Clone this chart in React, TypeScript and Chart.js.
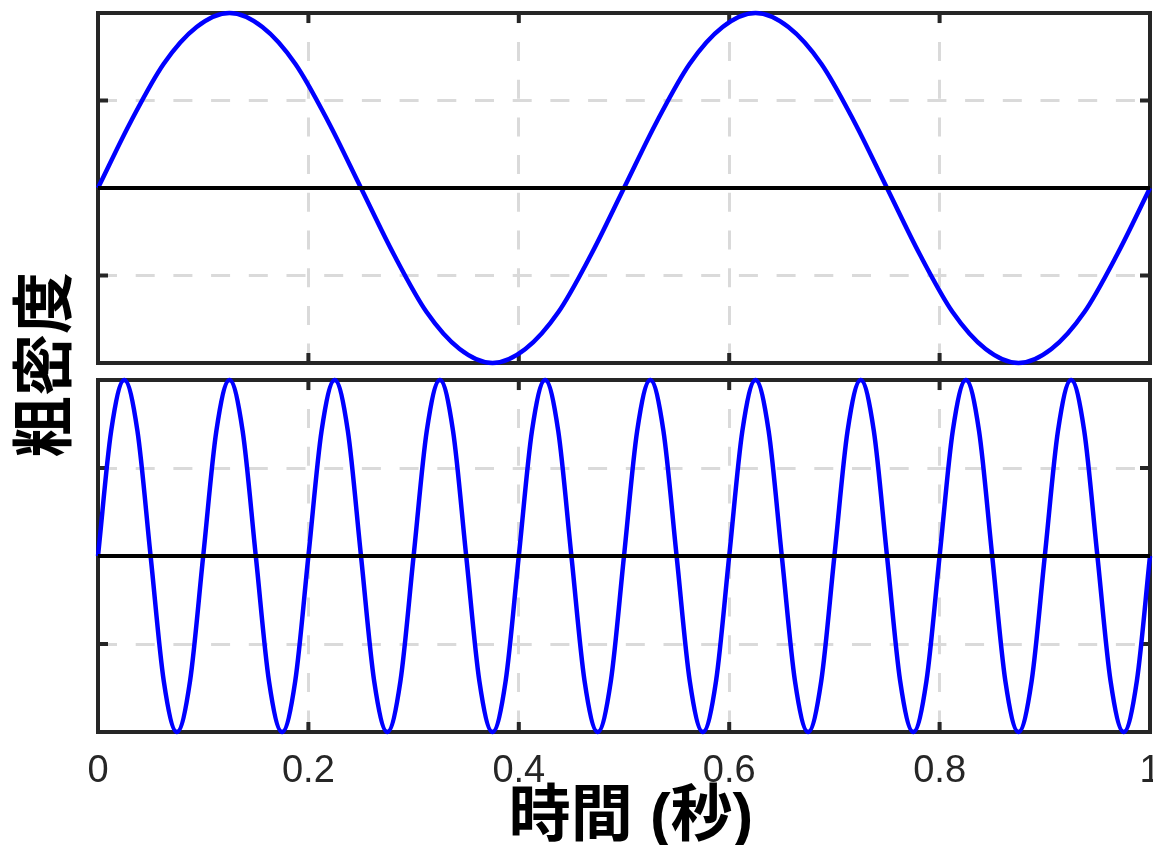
import { useEffect, useRef } from 'react';
import { Chart, registerables } from 'chart.js';

Chart.register(...registerables);

// ---- data ----
const timeTop = [
  0, 0.03125, 0.0625, 0.09375, 0.125, 0.15625, 0.1875, 0.21875, 0.25, 0.28125, 0.3125,
  0.34375, 0.375, 0.40625, 0.4375, 0.46875, 0.5, 0.53125, 0.5625, 0.59375, 0.625, 0.65625,
  0.6875, 0.71875, 0.75, 0.78125, 0.8125, 0.84375, 0.875, 0.90625, 0.9375, 0.96875, 1,
];
const densityTop = [
  0, 0.38, 0.71, 0.92, 1, 0.92, 0.71, 0.38, 0, -0.38, -0.71, -0.92, -1, -0.92, -0.71, -0.38,
  0, 0.38, 0.71, 0.92, 1, 0.92, 0.71, 0.38, 0, -0.38, -0.71, -0.92, -1, -0.92, -0.71, -0.38,
  0,
];
const timeBottom = [
  0, 0.0125, 0.025, 0.0375, 0.05, 0.0625, 0.075, 0.0875, 0.1, 0.1125, 0.125, 0.1375, 0.15,
  0.1625, 0.175, 0.1875, 0.2, 0.2125, 0.225, 0.2375, 0.25, 0.2625, 0.275, 0.2875, 0.3, 0.3125,
  0.325, 0.3375, 0.35, 0.3625, 0.375, 0.3875, 0.4, 0.4125, 0.425, 0.4375, 0.45, 0.4625, 0.475,
  0.4875, 0.5, 0.5125, 0.525, 0.5375, 0.55, 0.5625, 0.575, 0.5875, 0.6, 0.6125, 0.625, 0.6375,
  0.65, 0.6625, 0.675, 0.6875, 0.7, 0.7125, 0.725, 0.7375, 0.75, 0.7625, 0.775, 0.7875, 0.8,
  0.8125, 0.825, 0.8375, 0.85, 0.8625, 0.875, 0.8875, 0.9, 0.9125, 0.925, 0.9375, 0.95, 0.9625,
  0.975, 0.9875, 1,
];
const densityBottom = [
  0, 0.71, 1, 0.71, 0, -0.71, -1, -0.71,
  0, 0.71, 1, 0.71, 0, -0.71, -1, -0.71,
  0, 0.71, 1, 0.71, 0, -0.71, -1, -0.71,
  0, 0.71, 1, 0.71, 0, -0.71, -1, -0.71,
  0, 0.71, 1, 0.71, 0, -0.71, -1, -0.71,
  0, 0.71, 1, 0.71, 0, -0.71, -1, -0.71,
  0, 0.71, 1, 0.71, 0, -0.71, -1, -0.71,
  0, 0.71, 1, 0.71, 0, -0.71, -1, -0.71,
  0, 0.71, 1, 0.71, 0, -0.71, -1, -0.71,
  0, 0.71, 1, 0.71, 0, -0.71, -1, -0.71,
  0,
];
const zeroLineX = [0, 1];
const zeroLineY = [0, 0];
const xTicks = [0, 0.2, 0.4, 0.6, 0.8, 1];
const xTickLabels = ['0', '0.2', '0.4', '0.6', '0.8', '1'];
const yTicks = [-1, -0.5, 0, 0.5, 1];
const xAxisTitle = '時間 (秒)';
const yAxisTitle = '粗密度';

const FRAME = '#262626';

const framePlugin = {
  id: 'matlabFrame',
  beforeDatasetsDraw(chart: any) {
    const { ctx, chartArea: a, scales } = chart;
    ctx.save();
    ctx.strokeStyle = FRAME;
    ctx.lineWidth = 4;
    ctx.strokeRect(a.left, a.top, a.right - a.left, a.bottom - a.top);
    const L = 10;
    ctx.beginPath();
    scales.x.ticks.forEach((t: any) => {
      const px = scales.x.getPixelForValue(t.value);
      ctx.moveTo(px, a.bottom);
      ctx.lineTo(px, a.bottom - L);
      ctx.moveTo(px, a.top);
      ctx.lineTo(px, a.top + L);
    });
    scales.y.ticks.forEach((t: any) => {
      const py = scales.y.getPixelForValue(t.value);
      ctx.moveTo(a.left, py);
      ctx.lineTo(a.left + L, py);
      ctx.moveTo(a.right, py);
      ctx.lineTo(a.right - L, py);
    });
    ctx.stroke();
    ctx.restore();
  },
};

function makeConfig(times: number[], values: number[], showXLabels: boolean, padding: any) {
  return {
    type: 'line' as const,
    data: {
      datasets: [
        {
          data: zeroLineX.map((x, i) => ({ x, y: zeroLineY[i] })),
          borderColor: '#000000',
          borderWidth: 4,
          pointRadius: 0,
          clip: false as any,
        },
        {
          data: times.map((x, i) => ({ x, y: values[i] })),
          borderColor: '#0000ff',
          borderWidth: 4.5,
          pointRadius: 0,
          cubicInterpolationMode: 'monotone' as const,
          clip: false as any,
        },
      ],
    },
    options: {
      animation: false as const,
      responsive: false,
      devicePixelRatio: 1,
      layout: { padding },
      plugins: { legend: { display: false }, tooltip: { enabled: false } },
      events: [] as any[],
      scales: {
        x: {
          type: 'linear' as const,
          min: 0,
          max: 1,
          afterBuildTicks: (scale: any) => {
            scale.ticks = xTicks.map((v) => ({ value: v }));
          },
          grid: { color: '#dadada', lineWidth: 3, drawTicks: false },
          border: { display: false, dash: [19, 18.7], dashOffset: 8.7 },
          ticks: {
            display: showXLabels,
            maxRotation: 0,
            autoSkip: false,
            padding: 17,
            color: FRAME,
            font: { family: '"Liberation Sans", Arial, sans-serif', size: 38 },
            callback: (_v: any, i: number) => xTickLabels[i],
          },
        },
        y: {
          type: 'linear' as const,
          min: -1,
          max: 1,
          afterBuildTicks: (scale: any) => {
            scale.ticks = yTicks.map((v) => ({ value: v }));
          },
          grid: { color: '#dadada', lineWidth: 3, drawTicks: false },
          border: { display: false, dash: [19, 18.7], dashOffset: 0 },
          ticks: { display: false },
        },
      },
    },
    plugins: [framePlugin],
  };
}

export default function App() {
  const topRef = useRef<HTMLCanvasElement>(null);
  const bottomRef = useRef<HTMLCanvasElement>(null);

  useEffect(() => {
    const top = new Chart(
      topRef.current as HTMLCanvasElement,
      makeConfig(timeTop, densityTop, false, { left: 98, right: 50, top: 13, bottom: 482 }) as any
    );
    const bottom = new Chart(
      bottomRef.current as HTMLCanvasElement,
      makeConfig(timeBottom, densityBottom, true, { left: 98, right: 50, top: 380, bottom: 33.4 }) as any
    );
    return () => {
      top.destroy();
      bottom.destroy();
    };
  }, []);

  const labelFont = '"Liberation Sans", "Noto Sans CJK JP", sans-serif';

  return (
    <div
      style={{
        position: 'fixed',
        left: 0,
        top: 0,
        width: 1153,
        height: 845,
        overflow: 'hidden',
        background: '#ffffff',
      }}
    >
      <canvas ref={topRef} width={1200} height={845} style={{ position: 'absolute', left: 0, top: 0 }} />
      <canvas ref={bottomRef} width={1200} height={845} style={{ position: 'absolute', left: 0, top: 0 }} />
      <div
        style={{
          position: 'absolute',
          left: 631,
          top: 815,
          transform: 'translate(-50%, -50%)',
          fontFamily: labelFont,
          fontWeight: 'bold',
          fontSize: 62,
          lineHeight: '62px',
          whiteSpace: 'nowrap',
          color: '#000',
        }}
      >
        {xAxisTitle}
      </div>
      <div
        style={{
          position: 'absolute',
          left: 44.5,
          top: 365,
          transform: 'translate(-50%, -50%) rotate(-90deg)',
          fontFamily: labelFont,
          fontWeight: 'bold',
          fontSize: 62,
          lineHeight: '62px',
          whiteSpace: 'nowrap',
          color: '#000',
        }}
      >
        {yAxisTitle}
      </div>
    </div>
  );
}
